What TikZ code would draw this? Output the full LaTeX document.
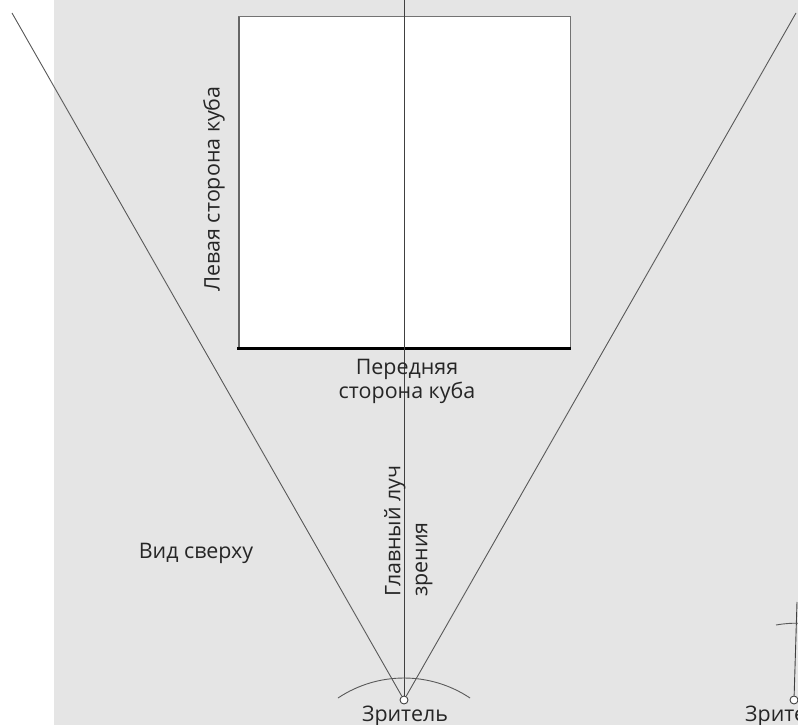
\documentclass[tikz,border=0pt]{standalone}
\usepackage{fontspec}
\setmainfont{Open Sans}
\tikzset{
  label text/.style={inner sep=0pt, text=black!85, font=\fontsize{21.5}{24}\selectfont},
  sight/.style={draw=black!65, line width=0.9bp},
  viewer/.style={circle, draw=black!75, fill=white, line width=0.9bp, minimum size=8bp, inner sep=0pt}
}
\begin{document}
\begin{tikzpicture}[x=1bp, y=-1bp]
  % page and grey field
  \fill[white] (0,0) rectangle (798,725);
  \fill[black!10] (54,0) rectangle (798,725);
  \useasboundingbox (0,0) rectangle (798,725);

  % the cube seen from above
  \fill[white] (238,16) rectangle (570,348);
  \draw[black!55, line width=0.9bp] (238,348) -- (238,16) -- (570,16) -- (570,348);
  \draw[black!60, line width=2bp] (238.5,348) -- (238.5,17);
  \draw[black, line width=3bp] (237,348) -- (571,348);

  % viewers
  \node[viewer] (eye) at (404,700) {};
  \node[viewer] (eye2) at (794,700) {};
  \coordinate (top) at (404,0);
  \coordinate (lft) at (12,13);
  \coordinate (rgt) at (796,13);
  \coordinate (up2) at (797,602);

  % lines of sight
  \draw[sight] (eye) -- (lft);
  \draw[sight] (eye) -- (rgt);
  \draw[black!75, line width=0.9bp] (eye) -- (top);
  \draw[black!75, line width=0.9bp] (eye2) -- (up2);

  % angle arcs
  \draw[black!65, line width=0.9bp] (338,698) arc (236.3:303.7:119);
  \draw[black!65, line width=0.9bp] (776,625) arc (260:285:119);

  % labels
  \node[label text, rotate=90] (left side) at (214,189) {Левая сторона куба};
  \node[label text, align=center] (front side) at (407,381) {Передняя\\сторона куба};
  \node[label text, align=left, rotate=90, anchor=north west, font=\fontsize{21.5}{27}\selectfont] (main ray) at (384,597) {Главный луч\\зрения};
  \node[label text] (top view) at (196,553) {Вид сверху};
  \node[label text] (viewer text) at (405,716) {Зритель};
  \node[label text, anchor=west] (viewer text2) at (745,716) {Зрите};
\end{tikzpicture}
\end{document}
